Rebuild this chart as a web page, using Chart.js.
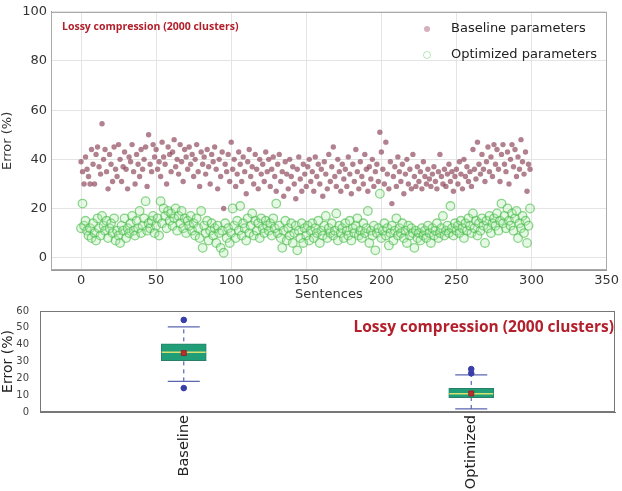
<!DOCTYPE html>
<html lang="en">
<head>
    <meta charset="UTF-8">
    <title>Lossy compression (2000 clusters)</title>
    <script src="https://cdn.jsdelivr.net/npm/chart.js"></script>
    <style>
        body { margin: 0; background: #fff; }
        #wrap { width: 622px; height: 491px; position: relative; }
        #topBox { position: absolute; left: 0; top: 0; width: 622px; height: 302px; }
        #botBox { position: absolute; left: 0; top: 302px; width: 622px; height: 189px; }
    </style>
</head>
<body>
<div id="wrap">
    <div id="topBox"><canvas id="scatterChart"></canvas></div>
    <div id="botBox"><canvas id="boxChart"></canvas></div>
</div>

<script>
    // Error (%) per sentence, one value per sentence index 0..299
    const baselineErrors = [
        39, 35, 30, 41, 36, 33, 30, 44, 38, 30, 42, 45, 37, 34, 54.5, 40, 44, 35, 28, 42, 38, 31, 45, 36, 33,
        46, 40, 31, 37, 43, 36, 28, 41, 39, 46, 35, 30, 42, 38, 33, 44, 36, 40, 45, 29, 50, 38, 35, 46, 41,
        44, 36, 39, 33, 47, 41, 38, 30, 45, 42, 35, 43, 48, 37, 40, 34, 46, 39, 31, 44, 41, 36, 45, 38, 42,
        33, 40, 46, 35, 29, 43, 38, 41, 34, 44, 37, 30, 42, 39, 45, 36, 28, 40, 33, 43, 20, 38, 35, 42, 31,
        47, 36, 40, 29, 34, 43, 38, 31, 41, 35, 26, 39, 44, 33, 37, 30, 42, 36, 28, 40, 34, 38, 31, 43, 35,
        40, 29, 36, 41, 33, 27, 38, 42, 31, 35, 25, 39, 34, 28, 40, 33, 37, 30, 24, 36, 41, 32, 27, 38, 34,
        29, 37, 40, 31, 35, 27, 41, 33, 38, 30, 36, 25, 39, 34, 28, 42, 31, 37, 45, 33, 29, 40, 35, 27, 38,
        32, 36, 29, 41, 34, 26, 38, 31, 44, 35, 28, 39, 33, 30, 42, 36, 27, 37, 32, 40, 29, 35, 38, 31, 51,
        43, 36, 30, 47, 34, 28, 39, 22, 33, 37, 29, 41, 35, 31, 38, 26, 34, 40, 30, 36, 28, 42, 33, 29, 37,
        31, 35, 28, 39, 33, 30, 36, 32, 29, 34, 37, 31, 28, 35, 42, 33, 30, 36, 29, 34, 38, 31, 35, 27, 33,
        36, 30, 39, 34, 28, 40, 33, 37, 31, 35, 29, 44, 36, 32, 47, 38, 34, 42, 36, 31, 39, 45, 35, 41, 33,
        46, 38, 44, 36, 31, 42, 46, 38, 35, 43, 30, 40, 46, 37, 44, 33, 41, 36, 48, 39, 34, 43, 27, 38, 36
    ];
    const optimizedErrors = [
        12, 22, 13, 15, 11, 9, 12, 8, 14, 10, 7, 16, 12, 9, 17, 13, 11, 15, 8, 12, 14, 10, 16, 7, 11,
        9, 6, 13, 11, 16, 8, 12, 10, 14, 17, 11, 9, 15, 12, 19, 10, 13, 16, 23, 11, 14, 12, 15, 17, 10,
        13, 16, 9, 23, 14, 20, 17, 12, 19, 15, 18, 13, 16, 20, 11, 17, 14, 19, 12, 16, 10, 15, 13, 17, 11,
        14, 9, 16, 12, 8, 19, 4, 13, 10, 15, 7, 11, 14, 9, 12, 6, 13, 10, 4, 11, 2, 14, 8, 12, 6,
        10, 20, 13, 8, 15, 11, 21, 9, 14, 12, 7, 16, 10, 13, 18, 9, 15, 11, 14, 8, 16, 12, 10, 15, 13,
        11, 14, 9, 16, 12, 22, 10, 13, 8, 4, 11, 15, 7, 12, 9, 14, 6, 10, 13, 3, 11, 8, 14, 6, 12,
        9, 13, 7, 11, 14, 8, 12, 10, 15, 6, 11, 9, 13, 17, 8, 12, 10, 14, 9, 11, 18, 7, 13, 10, 12,
        8, 14, 11, 9, 15, 7, 12, 10, 13, 16, 9, 11, 8, 14, 10, 12, 19, 6, 11, 9, 13, 3, 10, 12, 26,
        8, 11, 14, 9, 12, 5, 10, 13, 7, 11, 16, 9, 12, 10, 14, 8, 11, 6, 13, 9, 12, 10, 4, 11, 8,
        10, 7, 12, 9, 11, 8, 13, 10, 6, 12, 9, 11, 14, 8, 10, 12, 17, 9, 11, 13, 10, 21, 12, 9, 14,
        11, 13, 10, 15, 12, 8, 14, 11, 16, 13, 10, 18, 12, 15, 9, 14, 11, 16, 13, 6, 15, 12, 17, 10, 14,
        16, 13, 18, 11, 15, 22, 14, 17, 12, 20, 15, 13, 18, 11, 16, 19, 8, 14, 12, 17, 10, 15, 6, 13, 20
    ];
    const scatterXTicks = [0, 50, 100, 150, 200, 250, 300, 350];
    const scatterYTicks = [0, 20, 40, 60, 80, 100];

    // box plot summary
    const boxLabels = ['Baseline', 'Optimized'];
    const boxQ1 = [30.5, 8.5];
    const boxQ3 = [40.5, 14];
    const boxMedian = [35.5, 10.8];
    const boxMean = [35, 11];
    const whiskerLow = [18.2, 1.8];
    const whiskerHigh = [50.6, 22];
    const outlierValues = [[54.7, 14.2], [23, 25.5]];
    const boxYTicks = [0, 10, 20, 30, 40, 50, 60];

    const titleText = 'Lossy compression (2000 clusters)';
    const tickFont = { family: 'DejaVu Sans', size: 13 };

    // plot frame around the chart area
    const frame = color => ({
        id: 'frame',
        afterDatasetsDraw(chart) {
            const a = chart.chartArea, ctx = chart.ctx;
            ctx.save();
            ctx.strokeStyle = color;
            ctx.lineWidth = 1;
            ctx.strokeRect(Math.round(a.left) + 0.5, Math.round(a.top) + 0.5,
                Math.round(a.right - a.left) - 1, Math.round(a.bottom - a.top) - 1);
            ctx.restore();
        }
    });

    // ---------- top: scatter ----------
    const baseColor = 'rgba(130, 52, 76, 0.62)';
    const optBorder = 'rgba(70, 185, 70, 0.6)';
    const optFill = 'rgba(170, 235, 170, 0.3)';

    const scatterOverlay = {
        id: 'scatterOverlay',
        afterDraw(chart) {
            const ctx = chart.ctx;
            const a = chart.chartArea;
            ctx.save();
            // annotation
            ctx.fillStyle = '#b3202c';
            ctx.font = 'bold 10.5px "Open Sans"';
            ctx.textBaseline = 'middle';
            ctx.fillText(titleText, a.left + 11, a.top + 15);
            // legend
            ctx.font = '13px "DejaVu Sans"';
            ctx.fillStyle = '#222';
            ctx.fillText('Baseline parameters', 451, 29);
            ctx.fillText('Optimized parameters', 451, 55);
            ctx.beginPath();
            ctx.arc(427, 29, 3, 0, Math.PI * 2);
            ctx.fillStyle = 'rgba(180, 110, 130, 0.55)';
            ctx.fill();
            ctx.beginPath();
            ctx.arc(427, 55, 3.5, 0, Math.PI * 2);
            ctx.strokeStyle = 'rgba(120, 200, 120, 0.5)';
            ctx.lineWidth = 1;
            ctx.stroke();
            ctx.restore();
        }
    };

    new Chart(document.getElementById('scatterChart'), {
        type: 'scatter',
        data: {
            datasets: [
                {
                    label: 'Optimized parameters',
                    data: optimizedErrors.map((v, i) => ({ x: i, y: v })),
                    backgroundColor: optFill,
                    borderColor: optBorder,
                    borderWidth: 1.3,
                    pointRadius: 4.3
                },
                {
                    label: 'Baseline parameters',
                    data: baselineErrors.map((v, i) => ({ x: i, y: v })),
                    backgroundColor: baseColor,
                    borderColor: baseColor,
                    borderWidth: 0,
                    pointRadius: 2.7
                }
            ]
        },
        options: {
            responsive: true,
            maintainAspectRatio: false,
            animation: false,
            layout: { padding: { top: 11, right: 12, left: 0, bottom: 0 } },
            plugins: { legend: { display: false }, tooltip: { enabled: false } },
            scales: {
                x: {
                    type: 'linear',
                    min: -20, max: 350,
                    afterBuildTicks: s => { s.ticks = scatterXTicks.map(v => ({ value: v })); },
                    afterFit: s => { s.height = 32; },
                    grid: { color: '#e4e4e4', drawTicks: false },
                    border: { color: '#999' },
                    ticks: { font: tickFont, color: '#333', padding: 3, maxRotation: 0 },
                    title: { display: true, text: 'Sentences', font: tickFont, color: '#333', padding: 0 }
                },
                y: {
                    min: -5, max: 100,
                    afterBuildTicks: s => { s.ticks = scatterYTicks.map(v => ({ value: v })); },
                    afterFit: s => { s.width = 51; },
                    grid: { color: '#e4e4e4', drawTicks: false },
                    border: { color: '#999' },
                    ticks: { font: tickFont, color: '#333', padding: 4 },
                    title: { display: true, text: 'Error (%)', font: tickFont, color: '#333', padding: 0 }
                }
            }
        },
        plugins: [scatterOverlay, frame('#aaa')]
    });

    // ---------- bottom: box plot ----------
    const boxParts = {
        id: 'boxParts',
        beforeDatasetsDraw(chart) {
            const ctx = chart.ctx;
            const xs = chart.scales.x, ys = chart.scales.y;
            ctx.save();
            ctx.strokeStyle = '#5a64b0';
            ctx.lineWidth = 1.2;
            boxLabels.forEach((lab, i) => {
                const cx = xs.getPixelForValue(i);
                ctx.setLineDash([4, 4]);
                ctx.beginPath();
                ctx.moveTo(cx, ys.getPixelForValue(whiskerLow[i]));
                ctx.lineTo(cx, ys.getPixelForValue(whiskerHigh[i]));
                ctx.stroke();
                ctx.setLineDash([]);
                [whiskerLow[i], whiskerHigh[i]].forEach(v => {
                    const py = ys.getPixelForValue(v);
                    ctx.beginPath();
                    ctx.moveTo(cx - 16, py);
                    ctx.lineTo(cx + 16, py);
                    ctx.stroke();
                });
            });
            ctx.restore();
        },
        afterDatasetDraw(chart, args) {
            if (args.index !== 0) return;
            const ctx = chart.ctx;
            const xs = chart.scales.x, ys = chart.scales.y;
            ctx.save();
            ctx.strokeStyle = '#d8e070';
            ctx.lineWidth = 1.5;
            boxLabels.forEach((lab, i) => {
                const cx = xs.getPixelForValue(i);
                const py = ys.getPixelForValue(boxMedian[i]);
                ctx.beginPath();
                ctx.moveTo(cx - 22, py);
                ctx.lineTo(cx + 22, py);
                ctx.stroke();
            });
            ctx.restore();
        },
        afterDraw(chart) {
            const ctx = chart.ctx;
            const a = chart.chartArea;
            ctx.save();
            ctx.fillStyle = '#b3202c';
            ctx.font = 'bold 15.5px "Open Sans"';
            ctx.textAlign = 'right';
            ctx.textBaseline = 'middle';
            ctx.fillText(titleText, a.right - 1, a.top + 17);
            ctx.restore();
        }
    };

    const outlierPoints = [];
    outlierValues.forEach((vals, i) => vals.forEach(v => outlierPoints.push({ x: boxLabels[i], y: v })));

    new Chart(document.getElementById('boxChart'), {
        type: 'bar',
        data: {
            labels: boxLabels,
            datasets: [
                {
                    label: 'IQR',
                    data: boxQ1.map((q, i) => [q, boxQ3[i]]),
                    backgroundColor: '#1f9e78',
                    borderColor: '#2a7f6a',
                    borderWidth: 1,
                    borderSkipped: false,
                    barThickness: 45,
                    order: 3
                },
                {
                    type: 'line',
                    label: 'Mean',
                    data: boxMean,
                    showLine: false,
                    pointStyle: 'rect',
                    pointRadius: 3.5,
                    backgroundColor: '#b8302a',
                    borderColor: '#8a2a2a',
                    borderWidth: 1,
                    order: 1
                },
                {
                    type: 'line',
                    label: 'Outliers',
                    data: outlierPoints,
                    showLine: false,
                    pointRadius: 2.8,
                    backgroundColor: '#3a3fa8',
                    borderColor: '#3a3fa8',
                    order: 0
                }
            ]
        },
        options: {
            responsive: true,
            maintainAspectRatio: false,
            animation: false,
            layout: { padding: { top: 8, right: 7, left: 0, bottom: 0 } },
            plugins: { legend: { display: false }, tooltip: { enabled: false } },
            scales: {
                x: {
                    afterFit: s => { s.height = 79; },
                    grid: { display: false, drawTicks: false },
                    border: { color: '#777' },
                    ticks: { font: { family: 'DejaVu Sans', size: 14.5 }, color: '#222', minRotation: 90, maxRotation: 90, padding: 3 }
                },
                y: {
                    min: 0, max: 60,
                    afterBuildTicks: s => { s.ticks = boxYTicks.map(v => ({ value: v })); },
                    afterFit: s => { s.width = 40; },
                    grid: { display: false },
                    border: { color: '#777' },
                    ticks: { font: { family: 'DejaVu Sans', size: 10 }, color: '#444', padding: 3 },
                    title: { display: true, text: 'Error (%)', font: { family: 'DejaVu Sans', size: 14 }, color: '#222', padding: 0 }
                }
            }
        },
        plugins: [boxParts, frame('#777')]
    });
</script>
</body>
</html>
